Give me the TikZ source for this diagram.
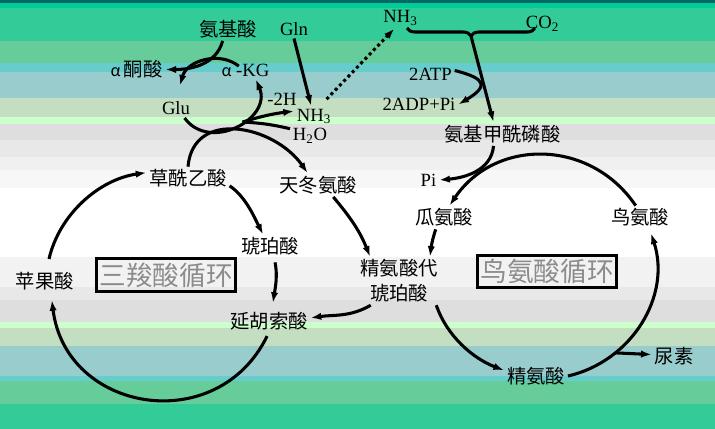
\documentclass[tikz,border=0pt]{standalone}
\usepackage{fontspec}
\setmainfont{Liberation Serif}
\newfontfamily\cjk{Noto Sans CJK SC}
\usepackage{tikz}
\usetikzlibrary{arrows.meta, decorations.pathreplacing, positioning}

\definecolor{bandA}{RGB}{0,105,95}
\definecolor{bandB}{RGB}{0,204,153}
\definecolor{bandC}{RGB}{51,204,153}
\definecolor{bandD}{RGB}{102,204,153}
\definecolor{bandE}{RGB}{102,204,204}
\definecolor{bandF}{RGB}{153,204,204}
\definecolor{bandG}{RGB}{195,222,192}
\definecolor{bandH}{RGB}{204,255,204}
\definecolor{cyclegray}{RGB}{140,140,140}

\tikzset{
  chem/.style={font=\cjk\fontsize{14.5}{18.5}\selectfont, inner sep=2pt},
  mol/.style={font=\fontsize{14}{16}\selectfont, inner sep=2pt},
  cyclebox/.style={draw, line width=2.2pt, font=\cjk\fontsize{20}{22}\selectfont,
    text=cyclegray, inner xsep=2pt, inner ysep=3pt},
  bond/.style={line width=2.3pt},
  flow/.style={bond, -{Latex[length=8pt,width=5.5pt]}},
  dotflow/.style={flow, dash pattern=on 2.3pt off 2.3pt},
}

\begin{document}
\begin{tikzpicture}[x=0.75pt,y=0.75pt]
\useasboundingbox (0,0) rectangle (715,-429);
% striped background
\foreach \ya/\yb/\col in {0/3/bandA, 3/8/bandB, 8/41/bandC, 41/63/bandD, 63/72/bandE,
    72/98/bandF, 98/117/bandG, 117/124/bandH, 124/140/black!13, 140/157/black!9,
    157/170/black!6, 170/188/black!3, 257/287/black!5, 287/300/black!9,
    300/322/black!13, 322/328/bandH, 328/346/bandG, 346/376/bandF,
    376/381/bandE, 381/404/bandD, 404/429/bandC}
  \fill[\col] (0,-\ya) rectangle (715,-\yb);

% transamination
\node[chem] (aa) at (228,-29) {氨基酸};
\node[mol] (gln) at (294,-29) {Gln};
\node[chem] (keto) at (136.5,-69.5) {{\fontsize{12}{14}\selectfont α}\,酮酸};
\node[mol] (akg) at (245.5,-70) {{\cjk\fontsize{12}{14}\selectfont α} -KG};
\node[mol] (glu) at (176,-108.5) {Glu};
\node[mol] (dehyd) at (282,-99) {-2H};
\node[mol] (nha) at (314,-116.5) {NH\textsubscript{3}};
\node[mol] (water) at (310,-136) {H\textsubscript{2}O};

% citric acid cycle
\node[chem] (oaa) at (188,-178.5) {草酰乙酸};
\node[chem] (asp) at (318,-185) {天冬氨酸};
\node[chem] (suc) at (270,-246.5) {琥珀酸};
\node[chem] (mal) at (45,-281.5) {苹果酸};
\node[chem] (fum) at (269,-321.5) {延胡索酸};
\node[cyclebox] (tca) at (166,-275) {三羧酸循环};

% urea cycle
\node[mol] (nhb) at (400.5,-18) {NH\textsubscript{3}};
\node[mol] (cotwo) at (542.5,-23.5) {CO\textsubscript{2}};
\node[mol] (atp) at (430.5,-74.5) {2ATP};
\node[mol] (adp) at (419,-104.5) {2ADP+Pi};
\node[chem] (cp) at (502.5,-134) {氨基甲酰磷酸};
\node[mol] (pi) at (428.5,-180) {Pi};
\node[chem] (cit) at (444,-217.5) {瓜氨酸};
\node[chem] (orn) at (640,-217.5) {鸟氨酸};
\node[chem, align=center] (asa) at (399,-281) {精氨酸代\\琥珀酸};
\node[chem] (arg) at (536,-376) {精氨酸};
\node[chem] (urea) at (674,-356.5) {尿素};
\node[cyclebox] (urc) at (547,-271.5) {鸟氨酸循环};

\coordinate (bl) at (407,-28);
\coordinate (br) at (535,-28);
\coordinate (mix) at (471,-36);

\draw[flow] ([xshift=-4pt]aa.south) to[out=-105,in=0] (keto.east);
\draw[flow] ([xshift=-5pt,yshift=-4pt]akg.north) to[out=142,in=75,looseness=1.05] ([xshift=3pt,yshift=10pt]glu.north);
\draw[flow] (glu.-48) to[out=-54,in=-67,looseness=1.35] coordinate[pos=0.57] (deam) (akg.-42);
\draw[flow] (deam) to[bend left=5] (nha.165);
\draw[bond] (water.160) to[bend right=5] (deam);
\draw[flow] (gln.south) -- (nha.105);
\draw[dotflow, shorten <=7pt] (nha.60) -- (nhb.-120);
\draw[flow] (oaa.north) to[out=85,in=125,looseness=1.25] (asp.131);

\draw[flow] ([xshift=3pt,yshift=8pt]mal.north) to[out=77,in=188,looseness=0.92] (oaa.172);
\draw[flow] (oaa.-10) to[out=-34,in=117,looseness=0.84] (suc.120);
\draw[flow] ([yshift=-3pt]suc.-67) to[out=-78,in=81,looseness=0.87] ([yshift=5pt]fum.72);
\draw[flow] ([yshift=-2pt]fum.-99) to[out=-116,in=-83,looseness=1.33] ([yshift=-5pt]mal.-60);

\draw[bond, decorate, decoration={brace, mirror, amplitude=6pt}] (bl) -- (br);
\draw[flow] (mix) -- (cp.127);
\draw[flow] ([yshift=3pt]atp.east) .. controls +(32,-8) and +(30,18) .. (adp.east);
\draw[flow] (cp.-127) to[out=-95,in=5] (pi.east);

\draw[flow] (orn.110) to[out=124,in=56,looseness=1.12] (cit.65);
\draw[flow] (cit.-125) to[out=-108,in=83] (asa.38);
\draw[flow] (asa.-33) to[out=-71,in=159,looseness=0.9] (arg.170);
\draw[flow] (arg.east) to[out=13,in=-72,looseness=1.02] coordinate[pos=0.28] (brk) ([yshift=-3pt]orn.-47);
\draw[flow] (brk) -- (urea.175);
\draw[flow] (asp.-38) to[out=-50,in=112] (asa.140);
\draw[flow] ([xshift=10pt]asa.south west) to[out=-150,in=8] (fum.5);
\end{tikzpicture}
\end{document}
